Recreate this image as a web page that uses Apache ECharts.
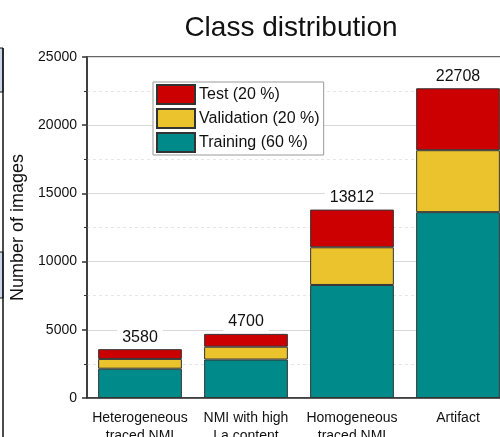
<!DOCTYPE html>
<html>
<head>
<meta charset="utf-8">
<title>Class distribution</title>
<script src="https://cdn.jsdelivr.net/npm/echarts@6/dist/echarts.min.js"></script>
<style>
  html, body { margin: 0; padding: 0; background: #fff; }
  #chart { width: 500px; height: 437px; }
</style>
</head>
<body>
<div id="chart"></div>
<script>
  // categories (second line of each label is cut off by the frame in the original)
  var categories = ['Heterogeneous\ntraced NMI', 'NMI with high\nLa content', 'Homogeneous\ntraced NMI', 'Artifact']
  var training = [2148, 2820, 8287, 13625]
  var validation = [716, 940, 2762, 4542]
  var test = [716, 940, 2763, 4541]
  var totals = [3580, 4700, 13812, 22708]
  var yTicks = [0, 5000, 10000, 15000, 20000, 25000]

  var font = 'Arial, "Liberation Sans", sans-serif'
  var edge = '#333'

  var chart = echarts.init(document.getElementById('chart'), null, { renderer: 'canvas' })

  function barSeries(name, data, color) {
    return {
      name: name,
      type: 'bar',
      stack: 'all',
      barWidth: '79%',
      data: data,
      itemStyle: { color: color, borderColor: edge, borderWidth: 1 }
    }
  }

  var testSeries = barSeries('Test (20 %)', test, '#CC0000')
  testSeries.label = {
    show: true,
    position: 'top',
    distance: 3,
    fontFamily: font,
    fontSize: 16,
    color: '#111',
    backgroundColor: '#fff',
    padding: [1, 5],
    formatter: function (p) { return totals[p.dataIndex] }
  }

  chart.setOption({
    animation: false,
    backgroundColor: '#fff',
    title: {
      text: 'Class distribution',
      left: 286,
      top: 9,
      textAlign: 'center',
      textStyle: { fontFamily: font, fontSize: 28, fontWeight: 'normal', color: '#111' }
    },
    legend: {
      orient: 'vertical',
      left: 153,
      top: 82,
      padding: [2, 4, 2, 3],
      icon: 'rect',
      itemWidth: 38,
      itemHeight: 19,
      itemGap: 3,
      borderColor: '#999',
      borderWidth: 1,
      backgroundColor: '#fff',
      data: ['Test (20 %)', 'Validation (20 %)', 'Training (60 %)'],
      textStyle: { fontFamily: font, fontSize: 16, color: '#111', padding: [0, 0, 0, -1] }
    },
    grid: {
      left: 87,
      right: -11,
      top: 57,
      bottom: 39,
      outerBoundsMode: 'none',
      containLabel: false,
      show: true,
      borderColor: edge,
      borderWidth: 1.5,
      backgroundColor: 'transparent'
    },
    xAxis: [
      {
        type: 'category',
        data: categories,
        axisLine: { lineStyle: { color: edge, width: 1.5 } },
        axisTick: { alignWithLabel: true, length: 5, lineStyle: { color: edge, width: 1.5 } },
        axisLabel: { margin: 11, fontFamily: font, fontSize: 14, lineHeight: 18, color: '#111', interval: 0 },
        splitLine: { show: false }
      },
      {
        // short ticks at category boundaries
        type: 'category',
        position: 'bottom',
        data: categories,
        axisLine: { show: false },
        axisTick: { length: 3, lineStyle: { color: edge, width: 1 } },
        axisLabel: { show: false },
        splitLine: { show: false }
      }
    ],
    yAxis: {
      type: 'value',
      min: yTicks[0],
      max: yTicks[yTicks.length - 1],
      interval: 5000,
      name: 'Number of images',
      nameLocation: 'middle',
      nameGap: 57,
      nameTextStyle: { fontFamily: font, fontSize: 18, color: '#111' },
      axisLine: { show: true, lineStyle: { color: edge, width: 1.5 } },
      axisTick: { show: true, length: 5, lineStyle: { color: edge, width: 1.5 } },
      minorTick: { show: true, splitNumber: 2, length: 3, lineStyle: { color: edge, width: 1 } },
      axisLabel: { margin: 10, fontFamily: font, fontSize: 14, color: '#111', formatter: function (v) { return String(v) } },
      splitLine: { show: true, lineStyle: { color: '#d9d9d9', width: 1 } },
      minorSplitLine: { show: true, lineStyle: { color: '#e6e6e6', width: 1, type: [3, 3] } }
    },
    series: [
      barSeries('Training (60 %)', training, '#008B8A'),
      barSeries('Validation (20 %)', validation, '#EAC32D'),
      testSeries
    ],
    graphic: [
      // edge of the neighbouring panel, cut off at the left
      { type: 'rect', shape: { x: -2, y: 48, width: 5, height: 44 }, style: { fill: '#c9d6ec', stroke: '#111', lineWidth: 1 } },
      { type: 'rect', shape: { x: -2, y: 252, width: 5, height: 46 }, style: { fill: '#c9d6ec', stroke: '#111', lineWidth: 1 } },
      { type: 'line', shape: { x1: 3, y1: 48, x2: 3, y2: 437 }, style: { stroke: '#111', lineWidth: 1.5 } }
    ]
  })
</script>
</body>
</html>
